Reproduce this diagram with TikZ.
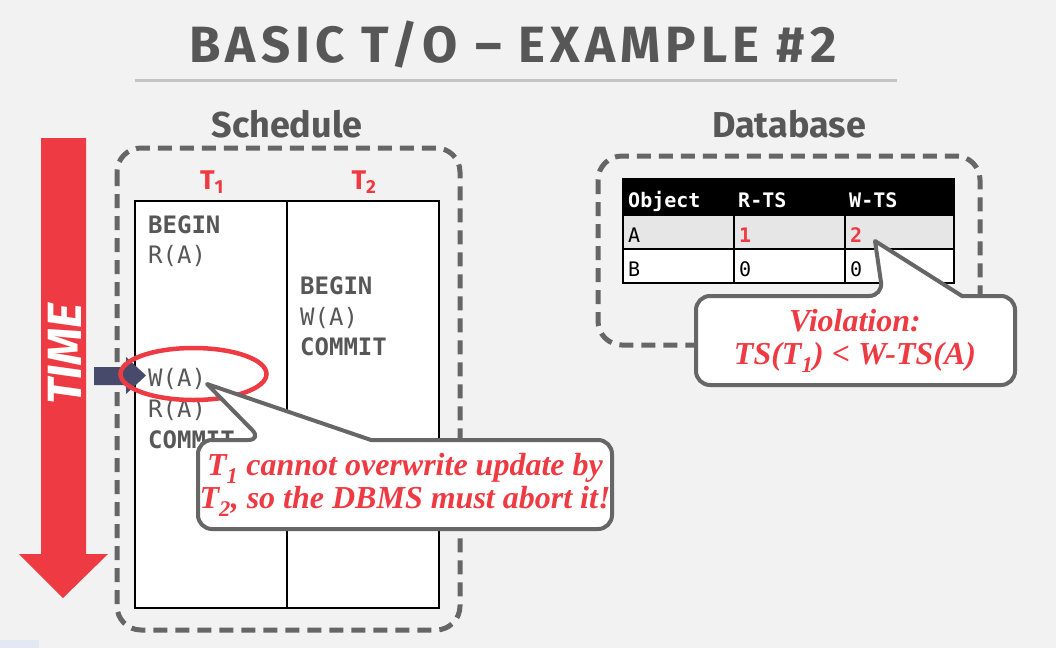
\documentclass[tikz,border=0pt]{standalone}
\usepackage{fontspec}
\setmainfont{Liberation Serif}
\newfontfamily\hfont{Fira Sans}
\newfontfamily\titlef[LetterSpace=10]{Fira Sans}
\newfontfamily\monof{DejaVu Sans Mono}
\definecolor{bg}{HTML}{F2F2F2}
\definecolor{myred}{HTML}{EE3B43}
\definecolor{txtgray}{HTML}{575757}
\definecolor{dashgray}{HTML}{666666}
\definecolor{navy}{HTML}{474A6B}
\definecolor{rulegray}{HTML}{C4C4C4}
\definecolor{rowgray}{HTML}{E6E6E6}
\definecolor{lightblue}{HTML}{E4E7F4}
\newcommand{\mysub}[1]{\raisebox{-0.15ex}{\textsubscript{#1}}}
\tikzset{
  dashbox/.style={draw=dashgray, line width=5pt, dash pattern=on 14pt off 8pt, rounded corners=24pt},
  mono/.style={font=\monof\fontsize{24}{28}\selectfont, text=txtgray, anchor=base west, inner sep=0pt},
  monob/.style={mono, font=\monof\bfseries\fontsize{24}{28}\selectfont},
  dbtxt/.style={font=\monof\fontsize{20}{24}\selectfont, text=black, anchor=base west, inner sep=0pt},
  dbhead/.style={dbtxt, font=\monof\bfseries\fontsize{20}{24}\selectfont, text=white},
  dbred/.style={dbtxt, font=\monof\bfseries\fontsize{20}{24}\selectfont, text=myred},
  callout/.style={draw=dashgray, fill=white, line width=4pt, line join=round},
  ctext/.style={text=myred, font=\bfseries\itshape\fontsize{32}{35}\selectfont, align=center, inner sep=0pt},
  heading/.style={font=\hfont\bfseries\fontsize{36}{40}\selectfont, text=txtgray},
  tlabel/.style={font=\hfont\bfseries\fontsize{27}{30}\selectfont, text=myred},
}
\begin{document}
\begin{tikzpicture}[x=1pt,y=-1pt]
\useasboundingbox (0,0) rectangle (1056,648);
\fill[bg] (0,0) rectangle (1056,648);
\fill[lightblue] (0,640) rectangle (39,648);

% title
\node[font=\titlef\bfseries\fontsize{51}{56}\selectfont, text=txtgray] (title) at (513,45) {BASIC T/O – EXAMPLE \#2};
\draw[rulegray, line width=3pt] (135,80) -- (897,80);

\node[heading] (sched) at (287,124) {Schedule};
\node[heading] (db) at (789,124) {Database};

% TIME arrow
\fill[myred] (41,138) -- (86,138) -- (86,554) -- (108,554) -- (63,598) -- (19,554) -- (41,554) -- cycle;
\node[rotate=90, text=white, font=\hfont\bfseries\itshape\fontsize{48}{50}\selectfont] (time) at (65,354) {TIME};

% schedule box
\draw[dashbox] (117,148) rectangle (460,630);
\node[tlabel] (t1) at (212,182) {T\textsubscript{1}};
\node[tlabel] (t2) at (364,182) {T\textsubscript{2}};
\draw[fill=white, line width=1.3pt] (135,201) rectangle (439,608);
\draw[line width=1.3pt] (287,201) -- (287,608);

\node[monob] (b1) at (148,233) {BEGIN};
\node[mono]  (r1) at (148,263.7) {R(A)};
\node[monob] (b2) at (300,294.4) {BEGIN};
\node[mono]  (w2) at (300,325) {W(A)};
\node[monob] (c2) at (300,355.8) {COMMIT};
\node[mono]  (w1) at (148,386.5) {W(A)};
\node[mono]  (r1b) at (148,417) {R(A)};
\node[monob] (c1) at (148,448) {COMMIT};

% navy marker arrow
\fill[navy] (94,367) -- (126,367) -- (126,357) -- (146,375.5) -- (126,394) -- (126,385) -- (94,385) -- cycle;
% red ellipse
\draw[myred, line width=4.5pt] (193.5,374) ellipse [x radius=73, y radius=26];

% callout 1
\coordinate (tip1) at (207,384);
\draw[callout] (405,529) [rounded corners=14pt] -- (198,529) -- (198,440) -- (262,440) [sharp corners] -- (tip1) -- (371,440) [rounded corners=14pt] -- (612,440) -- (612,529) -- cycle;
\node[ctext] (note1) at (405,485) {T\mysub{1} cannot overwrite update by\\[-2pt] T\mysub{2}, so the DBMS must abort it!};

% database box
\draw[dashbox] (598,156) rectangle (980,345);
\fill[black] (623,179) rectangle (954,215);
\fill[rowgray] (623,215) rectangle (954,249);
\fill[white] (623,249) rectangle (954,283);
\draw[line width=1.3pt] (623,179) rectangle (954,283);
\draw[line width=1.3pt] (623,215) -- (954,215) (623,249) -- (954,249) (734,215) -- (734,283) (845,215) -- (845,283);
\node[dbhead] (hobj) at (628,207) {Object};
\node[dbhead] (hr) at (738,207) {R-TS};
\node[dbhead] (hw) at (849,207) {W-TS};
\node[dbtxt] (ra) at (628,242) {A};
\node[dbred] (ra1) at (739,242) {1};
\node[dbred] (ra2) at (850,242) {2};
\node[dbtxt] (rb) at (628,276) {B};
\node[dbtxt] (rb1) at (739,276) {0};
\node[dbtxt] (rb2) at (850,276) {0};

% callout 2
\coordinate (tip2) at (875,241);
\draw[callout] (855,385) [rounded corners=14pt] -- (696,385) -- (696,296) -- (883,296) [sharp corners] -- (tip2) -- (962,296) [rounded corners=14pt] -- (1015,296) -- (1015,385) -- cycle;
\node[ctext] (note2) at (855,341) {Violation:\\[-2pt] TS(T\mysub{1}) {\upshape\textless} W-TS(A)};
\end{tikzpicture}
\end{document}
